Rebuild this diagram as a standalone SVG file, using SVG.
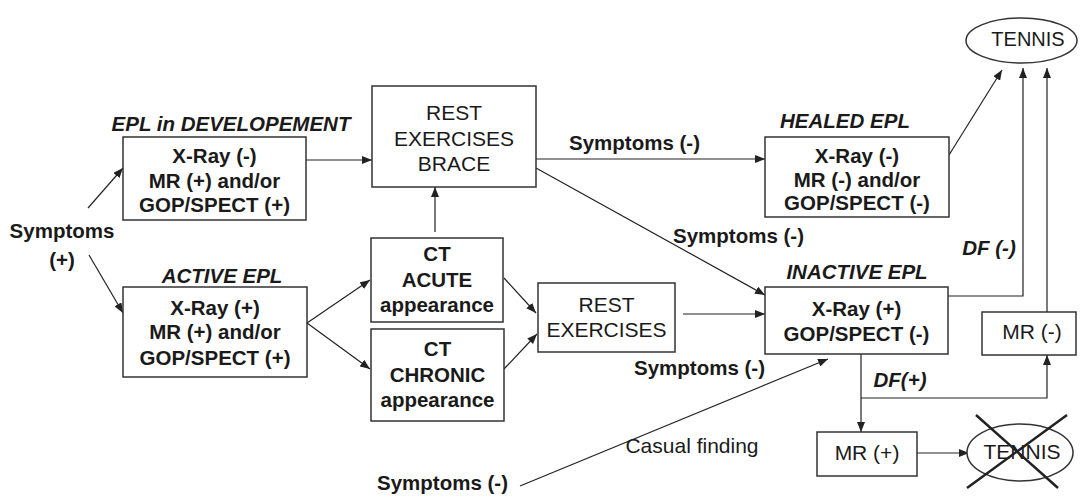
<svg xmlns="http://www.w3.org/2000/svg" width="1080" height="496" viewBox="0 0 1080 496">
<defs>
<marker id="ah" viewBox="0 0 10 8" refX="10" refY="4" markerWidth="10" markerHeight="8" markerUnits="userSpaceOnUse" orient="auto"><path d="M0,0 L10,4 L0,8 z" fill="#222"/></marker>
</defs>
<style>
.box{fill:#fff;stroke:#333;stroke-width:1.5}
.b{font-family:"Liberation Sans",Arial,sans-serif;font-weight:bold;font-size:20.5px;fill:#1a1a1a;text-anchor:middle}
.bi{font-family:"Liberation Sans",Arial,sans-serif;font-weight:bold;font-style:italic;font-size:20.5px;fill:#1a1a1a;text-anchor:middle}
.r{font-family:"Liberation Sans",Arial,sans-serif;font-size:21px;fill:#1a1a1a;text-anchor:middle}
.l{font-family:"Liberation Sans",Arial,sans-serif;font-weight:bold;font-size:20.5px;fill:#1a1a1a}
.c{fill:none;stroke:#222;stroke-width:1.2}
.a{fill:none;stroke:#222;stroke-width:1.2;marker-end:url(#ah)}
</style>
<rect width="1080" height="496" fill="#fff"/>

<g id="connectors">
<path class="a" d="M88,208 L123,168"/>
<path class="a" d="M89,255 L123,313"/>
<path class="a" d="M306,160 L372,160"/>
<path class="a" d="M307,323 L370,280"/>
<path class="a" d="M307,323 L370,369"/>
<path class="a" d="M435,232 L435,187"/>
<path class="a" d="M504,278 L536,313"/>
<path class="a" d="M504,369 L537,334"/>
<path class="a" d="M536,159 L765,159"/>
<path class="a" d="M536,168 L765,295"/>
<path class="a" d="M683,314 L765,314"/>
<path class="a" d="M520,486 L828,359"/>
<path class="a" d="M949,155 L1002,70"/>
<path class="a" d="M948,296 L1023,296 L1023,68"/>
<path class="a" d="M1047,312 L1047,68"/>
<path class="a" d="M861,354 L861,432"/>
<path class="a" d="M861,398 L1047,398 L1047,355"/>
<path class="a" d="M916,453 L969,453"/>
<text class="l" x="569" y="150">Symptoms (-)</text>
<text class="l" x="673" y="243">Symptoms (-)</text>
<text class="l" x="634" y="375">Symptoms (-)</text>
<text class="l" x="377" y="490">Symptoms (-)</text>
<text class="r" x="692" y="453">Casual finding</text>
<text class="bi" x="989" y="255">DF (-)</text>
<text class="bi" x="900" y="387">DF(+)</text>
</g>

<g id="symptoms-plus">
<text class="b" x="62" y="238">Symptoms</text>
<text class="b" x="62" y="267">(+)</text>
</g>

<g id="epl-dev">
<text class="bi" x="231" y="131">EPL in DEVELOPEMENT</text>
<rect class="box" x="123" y="137" width="183" height="83"/>
<text class="b" x="214.5" y="163">X-Ray (-)</text>
<text class="b" x="214.5" y="188">MR (+) and/or</text>
<text class="b" x="214.5" y="212">GOP/SPECT (+)</text>
</g>

<g id="active-epl">
<text class="bi" x="222" y="283">ACTIVE EPL</text>
<rect class="box" x="123" y="287" width="184" height="90"/>
<text class="b" x="215" y="315">X-Ray (+)</text>
<text class="b" x="215" y="339">MR (+) and/or</text>
<text class="b" x="215" y="365">GOP/SPECT (+)</text>
</g>

<g id="rest-brace">
<rect class="box" x="372" y="86" width="164" height="101"/>
<text class="r" x="454" y="120">REST</text>
<text class="r" x="454" y="146">EXERCISES</text>
<text class="r" x="454" y="171">BRACE</text>
</g>

<g id="ct-acute">
<rect class="box" x="371" y="238" width="132" height="84"/>
<text class="b" x="437" y="261">CT</text>
<text class="b" x="437" y="287">ACUTE</text>
<text class="b" x="437" y="312">appearance</text>
</g>

<g id="ct-chronic">
<rect class="box" x="371" y="329" width="133" height="92"/>
<text class="b" x="437.5" y="356">CT</text>
<text class="b" x="437.5" y="382">CHRONIC</text>
<text class="b" x="437.5" y="407">appearance</text>
</g>

<g id="rest-exercises">
<rect class="box" x="538" y="283" width="137" height="69"/>
<text class="r" x="606.5" y="312">REST</text>
<text class="r" x="606.5" y="337">EXERCISES</text>
</g>

<g id="healed-epl">
<text class="bi" x="845" y="128">HEALED EPL</text>
<rect class="box" x="765" y="137" width="184" height="80"/>
<text class="b" x="857" y="163">X-Ray (-)</text>
<text class="b" x="857" y="187">MR (-) and/or</text>
<text class="b" x="857" y="210">GOP/SPECT (-)</text>
</g>

<g id="inactive-epl">
<text class="bi" x="857" y="279">INACTIVE EPL</text>
<rect class="box" x="765" y="287" width="183" height="67"/>
<text class="b" x="856.5" y="316">X-Ray (+)</text>
<text class="b" x="856.5" y="341">GOP/SPECT (-)</text>
</g>

<g id="tennis-top">
<ellipse class="box" cx="1021.5" cy="40.5" rx="55.5" ry="22.5"/>
<text class="r" x="1028" y="46" style="font-size:20px">TENNIS</text>
</g>

<g id="mr-minus">
<rect class="box" x="982" y="312" width="94" height="43"/>
<text class="r" x="1032" y="339">MR (-)</text>
</g>

<g id="mr-plus">
<rect class="box" x="817" y="432" width="100" height="44"/>
<text class="r" x="867" y="460">MR (+)</text>
</g>

<g id="tennis-crossed">
<ellipse class="box" cx="1020" cy="452.5" rx="53" ry="28.5"/>
<text class="r" x="1022" y="459">TENNIS</text>
<path d="M976,415 L1058,488 M1067,415 L967,488" stroke="#222" stroke-width="2.5" fill="none"/>
</g>
</svg>
